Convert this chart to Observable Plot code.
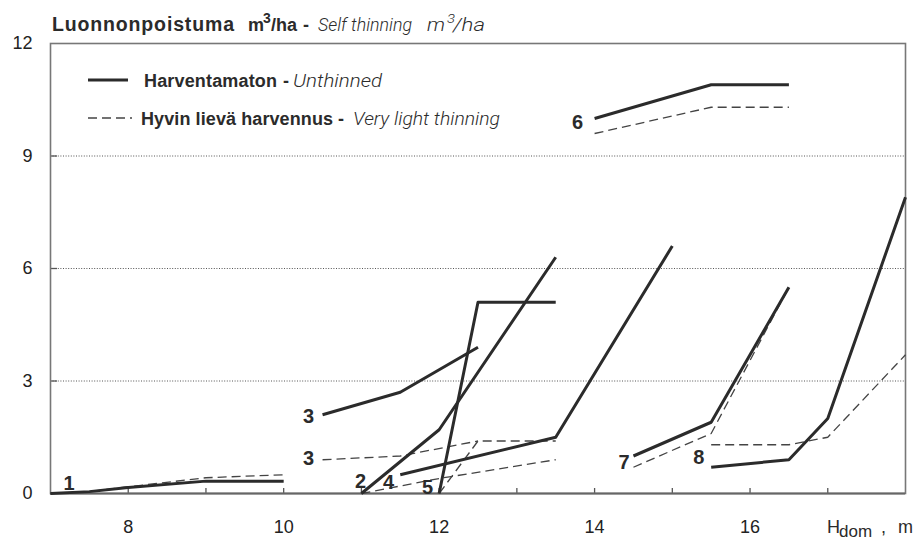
<!DOCTYPE html>
<html><head><meta charset="utf-8">
<script src="https://cdn.jsdelivr.net/npm/d3@7"></script>
<script src="https://cdn.jsdelivr.net/npm/@observablehq/plot@0.6"></script>
<style>html,body{margin:0;padding:0;background:#fff;} svg{display:block}</style>
</head><body><div id="chart"></div>
<script>
// ---- data (Hdom in m, self thinning in m3/ha) ----
const hdom1 = [7, 7.5, 8, 9, 10];
const unthinned1 = [0, 0.05, 0.16, 0.33, 0.33];
const light1 = [0, 0.05, 0.18, 0.42, 0.50];
const hdom2 = [11, 12, 13.5];
const unthinned2 = [0, 1.7, 6.3];
const light2 = [0, 0.4, 0.9];
const hdom3 = [10.5, 11.5, 12.5];
const unthinned3 = [2.1, 2.7, 3.9];
const light3 = [0.9, 1.0, 1.4];
const hdom4 = [11.5, 13.5, 15];
const unthinned4 = [0.5, 1.5, 6.6];
const hdom5 = [12, 12.5, 13.5];
const unthinned5 = [0, 5.1, 5.1];
const light5 = [0, 1.4, 1.4];
const hdom6 = [14, 15.5, 16.5];
const unthinned6 = [10.0, 10.9, 10.9];
const light6 = [9.6, 10.3, 10.3];
const hdom7 = [14.5, 15.5, 16.5];
const unthinned7 = [1.0, 1.9, 5.5];
const light7 = [0.7, 1.6, 5.5];
const hdom8 = [15.5, 16.5, 17, 18];
const unthinned8 = [0.7, 0.9, 2.0, 7.9];
const light8 = [1.3, 1.3, 1.5, 3.7];

const labelText = ["1", "2", "3", "3", "4", "5", "6", "7", "8"];
const labelHdom = [7.24, 10.99, 10.32, 10.32, 11.35, 11.85, 13.78, 14.38, 15.34];
const labelValue = [0.27, 0.31, 2.04, 0.94, 0.30, 0.15, 9.89, 0.82, 0.96];

const xTickValues = [8, 9, 10, 11, 12, 13, 14, 15, 16, 17];
const xLabelValues = [8, 10, 12, 14, 16];
const yTickValues = [0, 3, 6, 9, 12];
const yGridValues = [3, 6, 9];

// ---- build tables ----
function rows(curve, xs, ys) { return xs.map((x, i) => ({curve, hdom: x, value: ys[i]})); }
const unthinnedRows = [
  ...rows("1", hdom1, unthinned1), ...rows("2", hdom2, unthinned2), ...rows("3", hdom3, unthinned3),
  ...rows("4", hdom4, unthinned4), ...rows("5", hdom5, unthinned5), ...rows("6", hdom6, unthinned6),
  ...rows("7", hdom7, unthinned7), ...rows("8", hdom8, unthinned8)
];
const lightRows = [
  ...rows("1", hdom1, light1), ...rows("2", hdom2, light2), ...rows("3", hdom3, light3),
  ...rows("5", hdom5, light5), ...rows("6", hdom6, light6),
  ...rows("7", hdom7, light7), ...rows("8", hdom8, light8)
];
const labels = labelText.map((t, i) => ({t, x: labelHdom[i], y: labelValue[i]}));

const W = 922, H = 542, mL = 50, mR = 17, mT = 43, mB = 49;
const FONT = "'Liberation Sans', Arial, Helvetica, sans-serif";
const plot = Plot.plot({
  width: W, height: H,
  marginLeft: mL, marginRight: mR, marginTop: mT, marginBottom: mB,
  x: {domain: [7, 18]},
  y: {domain: [0, 12]},
  style: {fontFamily: FONT, fontSize: "18px", color: "#222", background: "#fff", overflow: "visible"},
  marks: [
    Plot.ruleY(yGridValues, {stroke: "#555", strokeWidth: 1, strokeDasharray: "1,1.6"}),
    Plot.ruleY(yGridValues, {stroke: "#555", strokeWidth: 1.3, insetRight: (W - mL - mR) - 7}),
    Plot.ruleX(xTickValues, {stroke: "#555", strokeWidth: 1.3, insetTop: (H - mT - mB) - 5}),
    Plot.frame({stroke: "#777", strokeWidth: 1.6}),
    Plot.ruleY([0], {stroke: "#666", strokeWidth: 2}),
    Plot.axisX(xLabelValues, {tickSize: 0, tickPadding: 27, fontSize: 18, fill: "#222", label: null}),
    Plot.axisY(yTickValues, {tickSize: 0, tickPadding: 18, fontSize: 18, fill: "#222", label: null}),
    Plot.line(lightRows, {x: "hdom", y: "value", z: "curve", stroke: "#444", strokeWidth: 1.3, strokeDasharray: "9,5", strokeLinecap: "butt"}),
    Plot.line(unthinnedRows, {x: "hdom", y: "value", z: "curve", stroke: "#2b2b2b", strokeWidth: 3, strokeLinecap: "butt"}),
    Plot.text(labels, {x: "x", y: "y", text: "t", fontWeight: "bold", fontSize: 20, fill: "#2b2b2b"})
  ]
});
document.getElementById("chart").appendChild(plot);

// ---- title, legend, axis label ----
const svg = d3.select(plot);
const ITAL = "Roboto, 'Open Sans', sans-serif";
function txt(s, x, y, o = {}) {
  const t = svg.append("text").attr("x", x).attr("y", y).text(s)
    .attr("text-anchor", "start")
    .attr("font-family", o.family || FONT)
    .attr("font-size", o.size || 18)
    .attr("font-weight", o.weight || "normal")
    .attr("fill", o.fill || "#2b2b2b");
  if (o.italic) t.attr("font-style", "italic");
  if (o.len) t.attr("textLength", o.len).attr("lengthAdjust", o.adjust || "spacingAndGlyphs");
  return t;
}
const B = {weight: "bold"};
const I = (len, size = 19) => ({family: ITAL, weight: 300, italic: true, len, size});

// title
txt("Luonnonpoistuma", 52, 31, {weight: "bold", size: 19.5, len: 182, adjust: "spacing"});
txt("m", 248, 31, B);
txt("3", 263, 23, {...B, size: 14});
txt("/ha", 271, 31, B);
txt("-", 303, 31, B);
txt("Self thinning", 318, 31, I(94));
txt("m", 427, 31, I(18));
txt("3", 447, 23, I(8, 13));
txt("/ha", 453, 31, I(32));

// legend
svg.append("line").attr("x1", 88).attr("x2", 128).attr("y1", 80).attr("y2", 80)
  .attr("stroke", "#2b2b2b").attr("stroke-width", 3);
txt("Harventamaton", 144, 87, {...B, len: 133, adjust: "spacing"});
txt("-", 283, 87, B);
txt("Unthinned", 293, 87, I(89));
svg.append("line").attr("x1", 88).attr("x2", 132).attr("y1", 118).attr("y2", 118)
  .attr("stroke", "#444").attr("stroke-width", 1.3).attr("stroke-dasharray", "9,5");
txt("Hyvin lievä harvennus", 141, 125, {...B, len: 192, adjust: "spacing"});
txt("-", 338, 125, B);
txt("Very light thinning", 353, 125, I(147));

// x axis label
txt("H", 827, 533, {});
txt("dom", 839, 537, {size: 17});
txt(",", 881, 533, {});
txt("m", 898, 533, {});
</script>
</body></html>
